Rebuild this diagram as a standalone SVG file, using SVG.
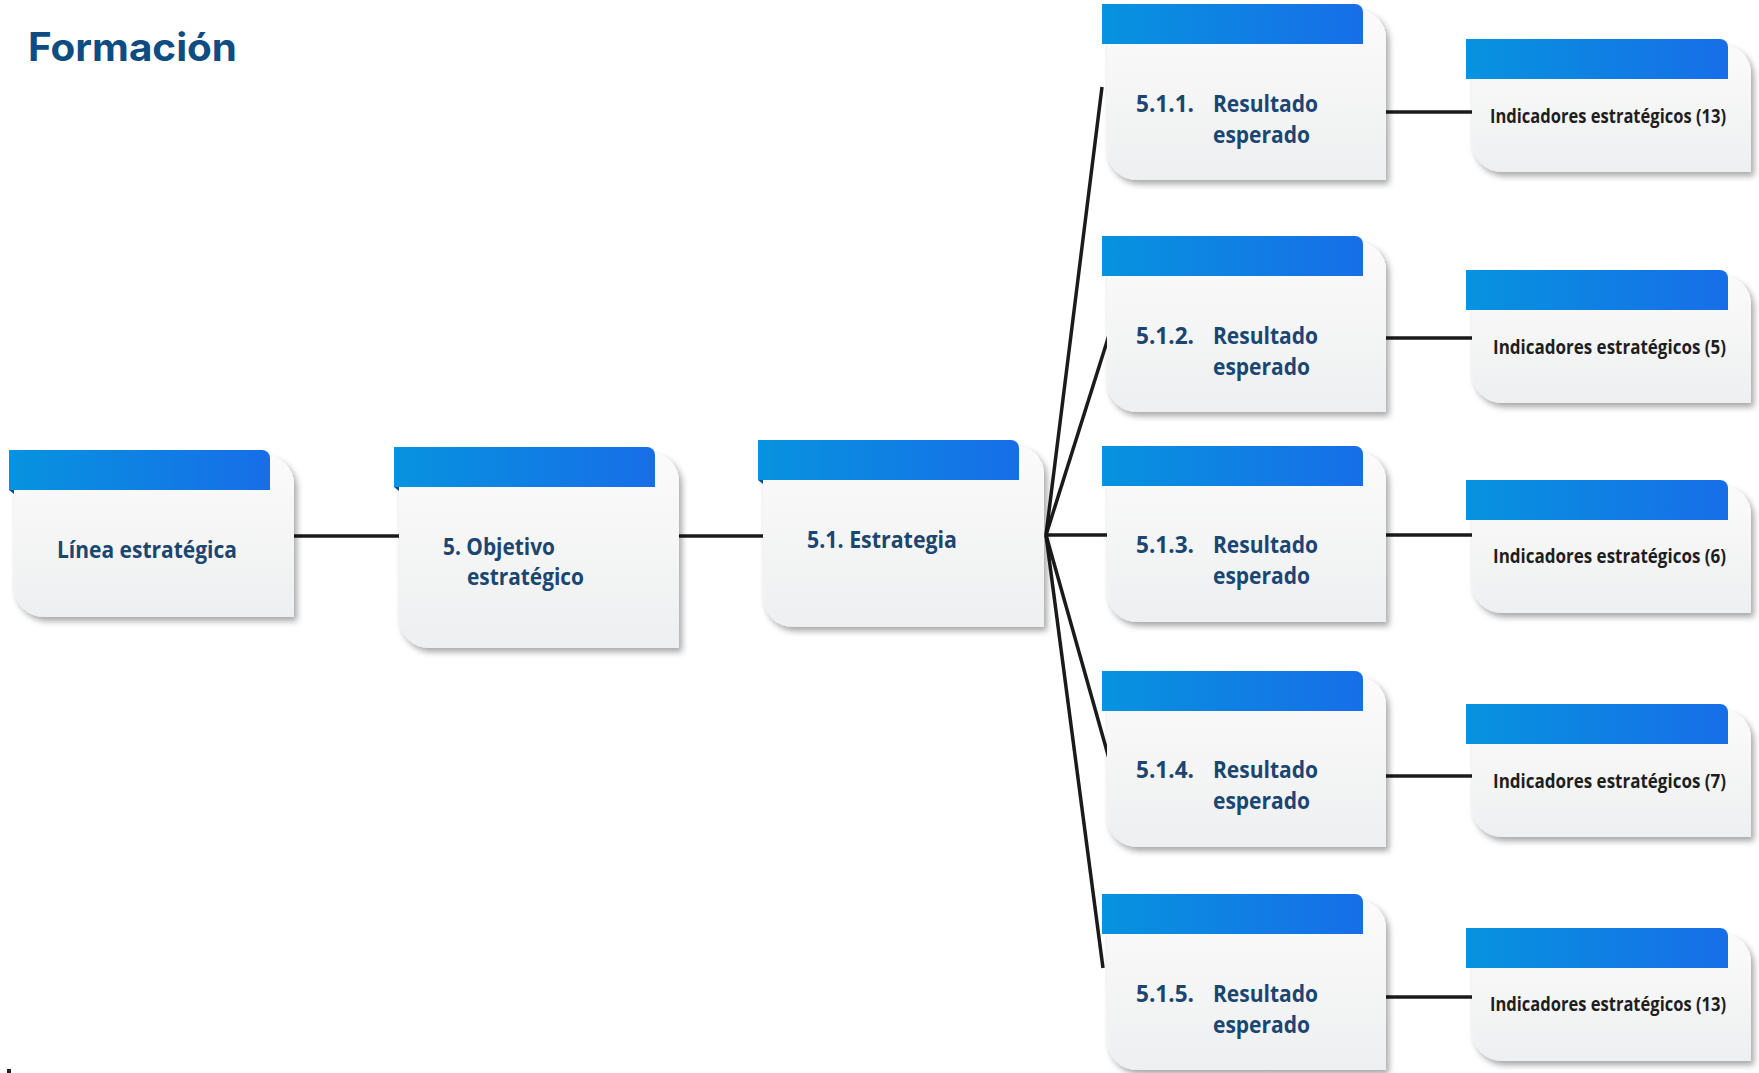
<svg xmlns="http://www.w3.org/2000/svg" width="1759" height="1073" viewBox="0 0 1759 1073">
<defs>
<linearGradient id="barG" x1="0" y1="0" x2="1" y2="0">
<stop offset="0" stop-color="#0793df"/>
<stop offset="1" stop-color="#176ee8"/>
</linearGradient>
<linearGradient id="bodyG" x1="0" y1="0" x2="0" y2="1">
<stop offset="0" stop-color="#fbfbfb"/>
<stop offset="1" stop-color="#eeeff0"/>
</linearGradient>
<filter id="sh" x="-10%" y="-10%" width="125%" height="130%">
<feDropShadow dx="3" dy="4" stdDeviation="3" flood-color="#000" flood-opacity="0.35"/>
</filter>
</defs>
<style>
.body{fill:url(#bodyG);filter:url(#sh)}
.bar{fill:url(#barG)}
.fold{fill:#0b4f8a}
.t{font-family:"Open Sans","Liberation Sans",sans-serif;font-weight:700;fill:#1a4670;font-size:22.5px}
.ti{font-family:"Open Sans","Liberation Sans",sans-serif;font-weight:700;fill:#1e1e1e;font-size:19px;text-anchor:end}
.title{font-family:Inter,"Liberation Sans",sans-serif;font-weight:700;fill:#0e4c82;font-size:39px}
.ln{stroke:#1a1a1a;stroke-width:3.5;fill:none}
</style>
<rect width="1759" height="1073" fill="#ffffff"/>
<text class="title" x="28" y="61" textLength="209" lengthAdjust="spacingAndGlyphs">Formación</text>

<g id="connectors">
<line class="ln" x1="290" y1="536" x2="402" y2="536"/>
<line class="ln" x1="675" y1="536" x2="767" y2="536"/>
<line class="ln" x1="1046" y1="535" x2="1102" y2="87"/>
<line class="ln" x1="1046" y1="535" x2="1110" y2="332"/>
<line class="ln" x1="1046" y1="535" x2="1110" y2="535"/>
<line class="ln" x1="1046" y1="535" x2="1110" y2="762"/>
<line class="ln" x1="1046" y1="535" x2="1103" y2="968"/>
<line class="ln" x1="1384" y1="112" x2="1475" y2="112"/>
<line class="ln" x1="1384" y1="338" x2="1475" y2="338"/>
<line class="ln" x1="1384" y1="535" x2="1475" y2="535"/>
<line class="ln" x1="1384" y1="776" x2="1475" y2="776"/>
<line class="ln" x1="1384" y1="997" x2="1475" y2="997"/>
</g>

<g id="linea">
<path class="body" d="M14,456 H266 A28,28 0 0 1 294,484 V617 H44 A30,30 0 0 1 14,587 Z"/>
<path class="bar" d="M9,450 H262 A8,8 0 0 1 270,458 V490 H9 Z"/>
<path class="fold" d="M9,490 H14 V494 Z"/>
<text class="t" x="57" y="558" textLength="180" lengthAdjust="spacingAndGlyphs">Línea estratégica</text>
</g>

<g id="objetivo">
<path class="body" d="M399,453 H651 A28,28 0 0 1 679,481 V648 H429 A30,30 0 0 1 399,618 Z"/>
<path class="bar" d="M394,447 H647 A8,8 0 0 1 655,455 V487 H394 Z"/>
<path class="fold" d="M394,487 H399 V491 Z"/>
<text class="t" x="443" y="555" textLength="112" lengthAdjust="spacingAndGlyphs">5. Objetivo</text>
<text class="t" x="467" y="585" textLength="117" lengthAdjust="spacingAndGlyphs">estratégico</text>
</g>

<g id="estrategia">
<path class="body" d="M763,446 H1016 A28,28 0 0 1 1044,474 V627 H793 A30,30 0 0 1 763,597 Z"/>
<path class="bar" d="M758,440 H1011 A8,8 0 0 1 1019,448 V480 H758 Z"/>
<path class="fold" d="M758,480 H763 V484 Z"/>
<text class="t" x="807" y="548" textLength="150" lengthAdjust="spacingAndGlyphs">5.1. Estrategia</text>
</g>

<g id="r511">
<path class="body" d="M1107,10 H1358 A28,28 0 0 1 1386,38 V180 H1137 A30,30 0 0 1 1107,150 Z"/>
<path class="bar" d="M1102,4 H1355 A8,8 0 0 1 1363,12 V44 H1102 Z"/>
<text class="t" x="1136" y="112" textLength="58" lengthAdjust="spacingAndGlyphs">5.1.1.</text>
<text class="t" x="1213" y="112" textLength="105" lengthAdjust="spacingAndGlyphs">Resultado</text>
<text class="t" x="1213" y="143" textLength="97" lengthAdjust="spacingAndGlyphs">esperado</text>
</g>

<g id="r512">
<path class="body" d="M1107,242 H1358 A28,28 0 0 1 1386,270 V412 H1137 A30,30 0 0 1 1107,382 Z"/>
<path class="bar" d="M1102,236 H1355 A8,8 0 0 1 1363,244 V276 H1102 Z"/>
<text class="t" x="1136" y="344" textLength="58" lengthAdjust="spacingAndGlyphs">5.1.2.</text>
<text class="t" x="1213" y="344" textLength="105" lengthAdjust="spacingAndGlyphs">Resultado</text>
<text class="t" x="1213" y="375" textLength="97" lengthAdjust="spacingAndGlyphs">esperado</text>
</g>

<g id="r513">
<path class="body" d="M1107,452 H1358 A28,28 0 0 1 1386,480 V622 H1137 A30,30 0 0 1 1107,592 Z"/>
<path class="bar" d="M1102,446 H1355 A8,8 0 0 1 1363,454 V486 H1102 Z"/>
<text class="t" x="1136" y="553" textLength="58" lengthAdjust="spacingAndGlyphs">5.1.3.</text>
<text class="t" x="1213" y="553" textLength="105" lengthAdjust="spacingAndGlyphs">Resultado</text>
<text class="t" x="1213" y="584" textLength="97" lengthAdjust="spacingAndGlyphs">esperado</text>
</g>

<g id="r514">
<path class="body" d="M1107,677 H1358 A28,28 0 0 1 1386,705 V847 H1137 A30,30 0 0 1 1107,817 Z"/>
<path class="bar" d="M1102,671 H1355 A8,8 0 0 1 1363,679 V711 H1102 Z"/>
<text class="t" x="1136" y="778" textLength="58" lengthAdjust="spacingAndGlyphs">5.1.4.</text>
<text class="t" x="1213" y="778" textLength="105" lengthAdjust="spacingAndGlyphs">Resultado</text>
<text class="t" x="1213" y="809" textLength="97" lengthAdjust="spacingAndGlyphs">esperado</text>
</g>

<g id="r515">
<path class="body" d="M1107,900 H1358 A28,28 0 0 1 1386,928 V1070 H1137 A30,30 0 0 1 1107,1040 Z"/>
<path class="bar" d="M1102,894 H1355 A8,8 0 0 1 1363,902 V934 H1102 Z"/>
<text class="t" x="1136" y="1002" textLength="58" lengthAdjust="spacingAndGlyphs">5.1.5.</text>
<text class="t" x="1213" y="1002" textLength="105" lengthAdjust="spacingAndGlyphs">Resultado</text>
<text class="t" x="1213" y="1033" textLength="97" lengthAdjust="spacingAndGlyphs">esperado</text>
</g>

<g id="ind1">
<path class="body" d="M1472,45 H1723 A28,28 0 0 1 1751,73 V172 H1502 A30,30 0 0 1 1472,142 Z"/>
<path class="bar" d="M1466,39 H1720 A8,8 0 0 1 1728,47 V79 H1466 Z"/>
<text class="ti" x="1726" y="123" textLength="236" lengthAdjust="spacingAndGlyphs">Indicadores estratégicos (13)</text>
</g>

<g id="ind2">
<path class="body" d="M1472,276 H1723 A28,28 0 0 1 1751,304 V403 H1502 A30,30 0 0 1 1472,373 Z"/>
<path class="bar" d="M1466,270 H1720 A8,8 0 0 1 1728,278 V310 H1466 Z"/>
<text class="ti" x="1726" y="354" textLength="233" lengthAdjust="spacingAndGlyphs">Indicadores estratégicos (5)</text>
</g>

<g id="ind3">
<path class="body" d="M1472,486 H1723 A28,28 0 0 1 1751,514 V613 H1502 A30,30 0 0 1 1472,583 Z"/>
<path class="bar" d="M1466,480 H1720 A8,8 0 0 1 1728,488 V520 H1466 Z"/>
<text class="ti" x="1726" y="563" textLength="233" lengthAdjust="spacingAndGlyphs">Indicadores estratégicos (6)</text>
</g>

<g id="ind4">
<path class="body" d="M1472,710 H1723 A28,28 0 0 1 1751,738 V837 H1502 A30,30 0 0 1 1472,807 Z"/>
<path class="bar" d="M1466,704 H1720 A8,8 0 0 1 1728,712 V744 H1466 Z"/>
<text class="ti" x="1726" y="788" textLength="233" lengthAdjust="spacingAndGlyphs">Indicadores estratégicos (7)</text>
</g>

<g id="ind5">
<path class="body" d="M1472,934 H1723 A28,28 0 0 1 1751,962 V1061 H1502 A30,30 0 0 1 1472,1031 Z"/>
<path class="bar" d="M1466,928 H1720 A8,8 0 0 1 1728,936 V968 H1466 Z"/>
<text class="ti" x="1726" y="1011" textLength="236" lengthAdjust="spacingAndGlyphs">Indicadores estratégicos (13)</text>
</g>

<rect x="7" y="1069" width="4" height="4" fill="#222"/>
</svg>
